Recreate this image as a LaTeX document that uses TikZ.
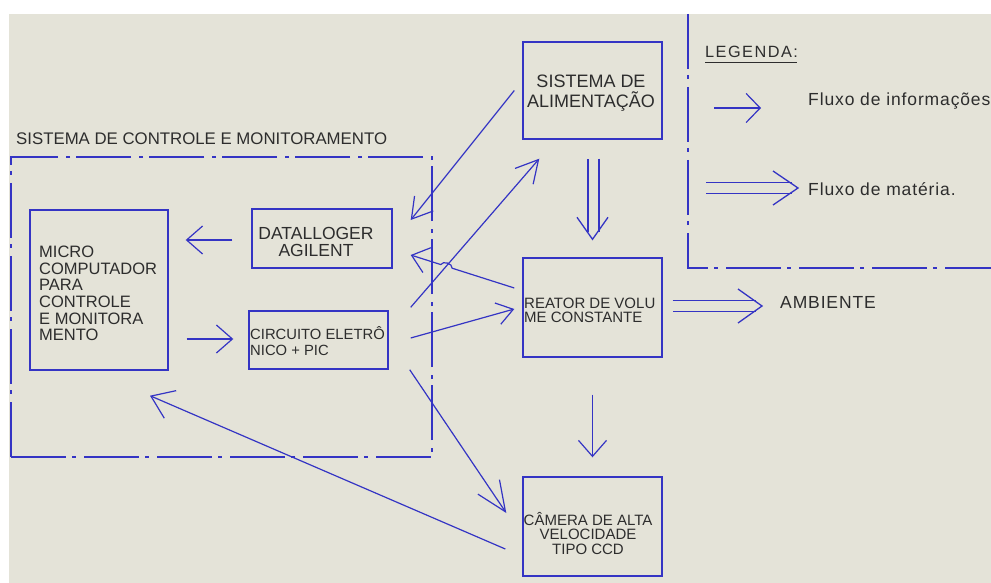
\documentclass[tikz,border=0pt]{standalone}
\usepackage{fontspec}
\setmainfont{Liberation Sans}
\usetikzlibrary{arrows.meta,calc}
\definecolor{paper}{RGB}{228,227,216}
\definecolor{ink}{RGB}{52,52,196}
\definecolor{txt}{RGB}{45,45,45}
\newcommand\setfs[2]{\fontsize{#1pt}{#2pt}\selectfont}
\tikzset{
  box/.style={draw=ink, line width=1.4pt, inner sep=0pt},
  frame/.style={draw=ink, line width=1.3pt, dash pattern=on 55pt off 6pt on 4pt off 8pt},
  lbl/.style={text=txt, inner sep=0pt},
  info/.style={draw=ink, line width=1.2pt, -{Straight Barb[length=16pt,width=28pt,line width=1.2pt]}},
  dline/.style={draw=ink, line width=1.3pt, double=paper, double distance=9.5pt},
  barb/.style={draw=ink, line width=1.3pt, line join=miter},
}
\begin{document}
\begin{tikzpicture}[x=1pt, y=-1pt]
  \useasboundingbox (0,0) rectangle (991,583);
  \fill[paper] (9,14) rectangle (991,583);

  % control and monitoring system frame
  \node[frame, inner sep=0pt, minimum width=421pt, minimum height=300pt] (ctrl) at (221.5,307) {};
  \node[lbl, anchor=base west] (ttl) at (16,145) {\setfs{16.8}{17}SISTEMA DE CONTROLE E MONITORAMENTO};

  % legend frame
  \coordinate (lgtop) at (688,14);
  \coordinate (lgcorner) at (688,268);
  \coordinate (lgright) at (991,268);
  \draw[frame] (lgtop) -- (lgcorner) -- (lgright);

  % blocks
  \node[box, minimum width=138pt, minimum height=160pt] (micro) at (99,290) {};
  \node[box, minimum width=140pt, minimum height=59pt] (dlog) at (322,238.5) {};
  \node[box, minimum width=139pt, minimum height=58pt] (circ) at (318.5,340) {};
  \node[box, minimum width=139pt, minimum height=97pt] (alim) at (592.5,90.5) {};
  \node[box, minimum width=139pt, minimum height=99pt] (reator) at (592.5,307.5) {};
  \node[box, minimum width=139pt, minimum height=99pt] (camera) at (592.5,526.5) {};

  % block texts
  \node[lbl, anchor=west, align=left, font=\setfs{16.5}{16.6}] (microtxt) at (39,293.5)
    {MICRO\\COMPUTADOR\\PARA\\CONTROLE\\E MONITORA\\MENTO};
  \node[lbl, align=center, font=\setfs{17.5}{17}] (dlogtxt) at (316,241.5) {DATALLOGER\\AGILENT};
  \node[lbl, anchor=west, align=left, font=\setfs{14.8}{16}] (circtxt) at (250,341) {CIRCUITO ELETRÔ\\NICO + PIC};
  \node[lbl, align=center, font=\setfs{18}{20}] (alimtxt) at (591,93) {SISTEMA DE\\ALIMENTAÇÃO};
  \node[lbl, anchor=west, align=left, font=\setfs{15}{14}] (reatortxt) at (524,310) {REATOR DE VOLU\\ME CONSTANTE};
  \node[lbl, align=center, font=\setfs{15}{14.5}] (cameratxt) at (588,533.5) {CÂMERA DE ALTA\\VELOCIDADE\\TIPO CCD};

  % legend texts
  \node[lbl, anchor=base west, font={\setfs{16.3}{16.3}\addfontfeature{LetterSpace=9}}] (lgd) at (705,57.5) {LEGENDA:};
  \draw[txt, line width=0.9pt] ($(lgd.base west)+(0,4.5)$) -- ($(lgd.base east)+(-1,4.5)$);
  \node[lbl, anchor=base west, font={\setfs{17.5}{17.5}\addfontfeature{LetterSpace=5}}] (lginfo) at (808,106) {Fluxo de informações};
  \node[lbl, anchor=base west, font={\setfs{17.5}{17.5}\addfontfeature{LetterSpace=5}}] (lgmat) at (808,195.5) {Fluxo de matéria.};
  \node[lbl, anchor=base west, font={\setfs{17.5}{17.5}\addfontfeature{LetterSpace=5}}] (amb) at (780,308) {AMBIENTE};

  % legend symbols
  \coordinate (li1) at ($(lginfo.base west)+(-94,2)$);
  \coordinate (li2) at ($(lginfo.base west)+(-47,2)$);
  \draw[info, -{Straight Barb[length=14pt,width=29pt,line width=1.2pt]}] (li1) -- (li2);
  \coordinate (lm1) at ($(lgmat.base west)+(-102,-7.5)$);
  \coordinate (lm2) at ($(lgmat.base west)+(-16,-7.5)$);
  \coordinate (lmt) at ($(lgmat.base west)+(-10,-7.5)$);
  \draw[dline] (lm1) -- (lm2);
  \draw[barb] ($(lmt)+(-25,-17)$) -- (lmt) -- ($(lmt)+(-25,17)$);

  % flows of information inside the control system
  \draw[info] ($(dlog.west)+(-19,1.5)$) -- ($(micro.east)+(17,-50)$);
  \draw[info] ($(micro.east)+(18,49)$) -- ($(circ.west)+(-15,-1)$);

  % information links with the process
  \coordinate (a1s) at ($(alim.west)+(-8,0)$);
  \coordinate (a1e) at ($(dlog.east)+(18,-18.5)$);
  \draw[info, -{Straight Barb[length=20pt,width=24pt,line width=1.2pt]}] (a1s) -- (a1e);

  \coordinate (a2s) at ($(circ.north east)+(22,-3)$);
  \coordinate (a2e) at ($(alim.south west)+(17,19)$);
  \draw[info, -{Straight Barb[length=22pt,width=24pt,line width=1.2pt]}] (a2s) -- (a2e);

  \coordinate (a3s) at ($(reator.west)+(-8,-19.5)$);
  \coordinate (a3e) at ($(dlog.east)+(18,16.5)$);
  \draw[info, -{Straight Barb[length=16pt,width=26pt,line width=1.2pt]}] (a3s) -- ($(a3s)!0.60!(a3e)$)
    to[bend right=80] ($(a3s)!0.71!(a3e)$) -- (a3e);

  \coordinate (a4s) at ($(circ.east)+(22,-2)$);
  \coordinate (a4e) at ($(reator.west)+(-8,1.5)$);
  \draw[info, -{Straight Barb[length=16pt,width=22pt,line width=1.2pt]}] (a4s) -- (a4e);

  \coordinate (a5s) at ($(circ.south east)+(21,0)$);
  \coordinate (a5e) at ($(camera.west)+(-16,-13.5)$);
  \draw[info, -{Straight Barb[length=30pt,width=26pt,line width=1.2pt]}] (a5s) -- (a5e);

  \coordinate (a6s) at ($(camera.west)+(-17,22.5)$);
  \coordinate (a6e) at ($(micro.south)+(51,25)$);
  \draw[info, -{Straight Barb[length=21pt,width=30pt,line width=1.2pt]}] (a6s) -- (a6e);

  % flows of matter
  \coordinate (m1s) at ($(alim.south)+(1,19)$);
  \coordinate (m1e) at ($(reator.north)+(1,-25)$);
  \coordinate (m1t) at ($(reator.north)+(0,-18)$);
  \draw[dline] (m1s) -- (m1e);
  \draw[barb] ($(m1t)+(-15.5,-22)$) -- (m1t) -- ($(m1t)+(15.5,-22)$);

  \draw[info] ($(reator.south)+(0,37)$) -- ($(camera.north)+(0,-19)$);

  \coordinate (m2s) at ($(reator.east)+(10,-1.5)$);
  \coordinate (m2e) at ($(amb.base west)+(-24,-2)$);
  \coordinate (m2t) at ($(amb.base west)+(-18,-2)$);
  \draw[dline] (m2s) -- (m2e);
  \draw[barb] ($(m2t)+(-24,-17)$) -- (m2t) -- ($(m2t)+(-24,17)$);
\end{tikzpicture}
\end{document}
